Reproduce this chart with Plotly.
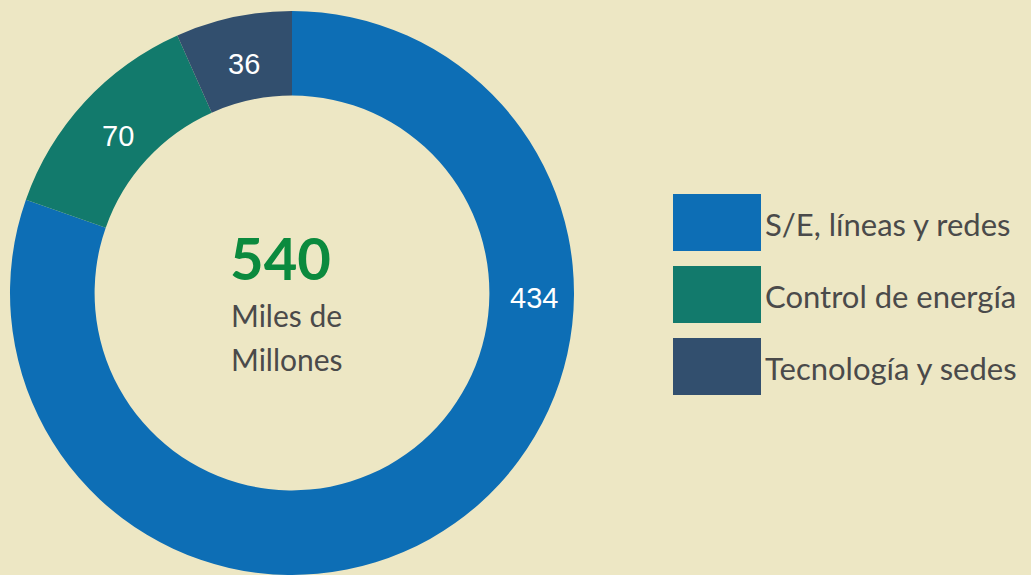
import math
import plotly.graph_objects as go

# ---- data ----
categories = ["S/E, líneas y redes", "Control de energía", "Tecnología y sedes"]
values = [434, 70, 36]
total_value = sum(values)  # 540
center_lines = ["Miles de", "Millones"]

# ---- styling ----
colors = ["#0D6EB5", "#127A6C", "#324F6E"]
BG = "#EDE7C4"
W, H = 1031, 575
CX, CY, R = 292, 294, 282
HOLE = 0.70
FONT = "Lato"


def px(x):
    return x / W


def py(y):
    return 1 - y / H


fig = go.Figure(
    go.Pie(
        labels=categories,
        values=values,
        marker=dict(colors=colors, line=dict(width=0)),
        hole=HOLE,
        sort=False,
        direction="clockwise",
        rotation=0,
        textinfo="none",
        hoverinfo="label+value",
        showlegend=False,
        domain=dict(x=[(CX - R) / W, (CX + R) / W], y=[0, min(1, 2 * R / H)]),
    )
)

annotations = []
shapes = []

# slice value labels (placed on ring middle radius)
rm = R * (1 + HOLE) / 2
cum = 0
for i, v in enumerate(values):
    mid = (cum + v / 2) / total_value * 360
    cum += v
    ang = 90 if i == 0 else mid  # main slice label sits at 3 o'clock
    x = CX + rm * math.sin(math.radians(ang))
    y = CY - rm * math.cos(math.radians(ang))
    annotations.append(dict(
        x=px(x + 2), y=py(y + 4), xref="paper", yref="paper", text=str(v),
        showarrow=False, xanchor="center", yanchor="middle",
        font=dict(family="Liberation Sans", size=29, color="white"),
    ))

# center text
annotations.append(dict(
    x=px(228), y=py(257), xref="paper", yref="paper", text=f"<b>{total_value}</b>",
    showarrow=False, xanchor="left", yanchor="middle",
    font=dict(family=FONT, size=58, color="#0B8A3E"),
))
for j, line in enumerate(center_lines):
    annotations.append(dict(
        x=px(229), y=py(315 + j * 44), xref="paper", yref="paper", text=line,
        showarrow=False, xanchor="left", yanchor="middle",
        font=dict(family=FONT, size=30, color="#4A4A4A"),
    ))

# custom legend
for k, (cat, col) in enumerate(zip(categories, colors)):
    top = 194 + k * 72
    shapes.append(dict(
        type="rect", xref="paper", yref="paper",
        x0=px(673), x1=px(761), y0=py(top), y1=py(top + 57),
        fillcolor=col, line=dict(width=0),
    ))
    annotations.append(dict(
        x=px(763), y=py(top + 30), xref="paper", yref="paper", text=cat,
        showarrow=False, xanchor="left", yanchor="middle",
        font=dict(family=FONT, size=31, color="#4A4A4A"),
    ))

fig.update_layout(
    width=W, height=H,
    margin=dict(l=0, r=0, t=0, b=0),
    paper_bgcolor=BG, plot_bgcolor=BG,
    annotations=annotations, shapes=shapes,
)

fig.write_html(
    "out.html",
    config={"displayModeBar": False},
    post_script="document.body.style.margin='0';document.body.style.overflow='hidden';document.body.style.background='" + BG + "';",
)
